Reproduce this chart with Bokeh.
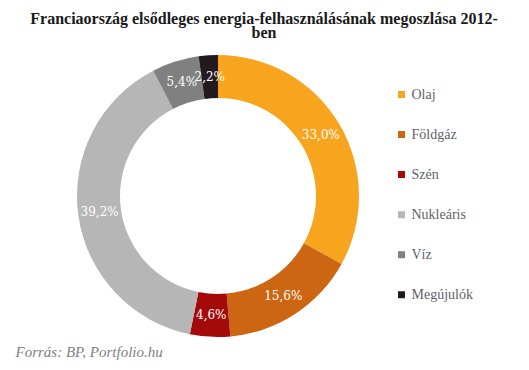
import numpy as np
from bokeh.plotting import figure
from bokeh.models import Range1d, ColumnDataSource
from bokeh.core.properties import value
from bokeh.embed import file_html
from bokeh.resources import INLINE

title_lines = ["Franciaország elsődleges energia-felhasználásának megoszlása 2012-", "ben"]
categories = ["Olaj", "Földgáz", "Szén", "Nukleáris", "Víz", "Megújulók"]
shares = [33.0, 15.6, 4.6, 39.2, 5.4, 2.2]
colors = ["#F7A51F", "#CC6612", "#A50A0A", "#B6B6B6", "#808080", "#231A1F"]
source_note = "Forrás: BP, Portfolio.hu"

W, H = 513, 362
cx, cy = 217.5, H - 195.5
r_in, r_out = 98, 141

frac = np.array(shares) / sum(shares)
cum = np.concatenate([[0], np.cumsum(frac)])
start = np.pi / 2 - cum[:-1] * 2 * np.pi
end = np.pi / 2 - cum[1:] * 2 * np.pi
mid = (start + end) / 2
r_lab = (r_in + r_out) / 2

src = ColumnDataSource(dict(
    start=start, end=end, color=colors, cat=categories,
    lx=cx + r_lab * np.cos(mid), ly=cy + r_lab * np.sin(mid),
    lab=[f"{v:.1f}".replace(".", ",") + "%" for v in shares],
))

p = figure(width=W, height=H, x_range=Range1d(0, W), y_range=Range1d(0, H),
           output_backend="svg", toolbar_location=None, min_border=0)
p.axis.visible = False
p.grid.visible = False
p.outline_line_color = None
p.background_fill_color = "white"

p.annular_wedge(x=cx, y=cy, inner_radius=r_in, outer_radius=r_out,
                start_angle="start", end_angle="end", direction="clock",
                fill_color="color", line_color=None, source=src)

p.text(x="lx", y="ly", text="lab", source=src, text_color="white",
       text_font=value("DejaVu Serif"), text_font_size="12px",
       text_align="center", text_baseline="middle")

# title
p.text(x=[263.5, 263.5], y=[H - 18, H - 32], text=title_lines,
       text_font=value("Liberation Serif"), text_font_style="bold",
       text_font_size="16px", text_color="#1a1a1a",
       text_align="center", text_baseline="middle")

# legend
n = len(categories)
ly = [H - (94 + 40.05 * i) for i in range(n)]
p.rect(x=[401] * n, y=ly, width=7, height=7, fill_color=colors, line_color=None)
p.text(x=[411] * n, y=ly, text=categories, text_font=value("Liberation Serif"),
       text_font_size="14px", text_color="#5f5f6a",
       text_align="left", text_baseline="middle")

# footer
p.text(x=[15], y=[H - 351], text=[source_note], text_font=value("Liberation Serif"),
       text_font_style="italic", text_font_size="15px", text_color="#808080",
       text_align="left", text_baseline="middle")

open("out.html", "w").write(file_html(p, INLINE))
